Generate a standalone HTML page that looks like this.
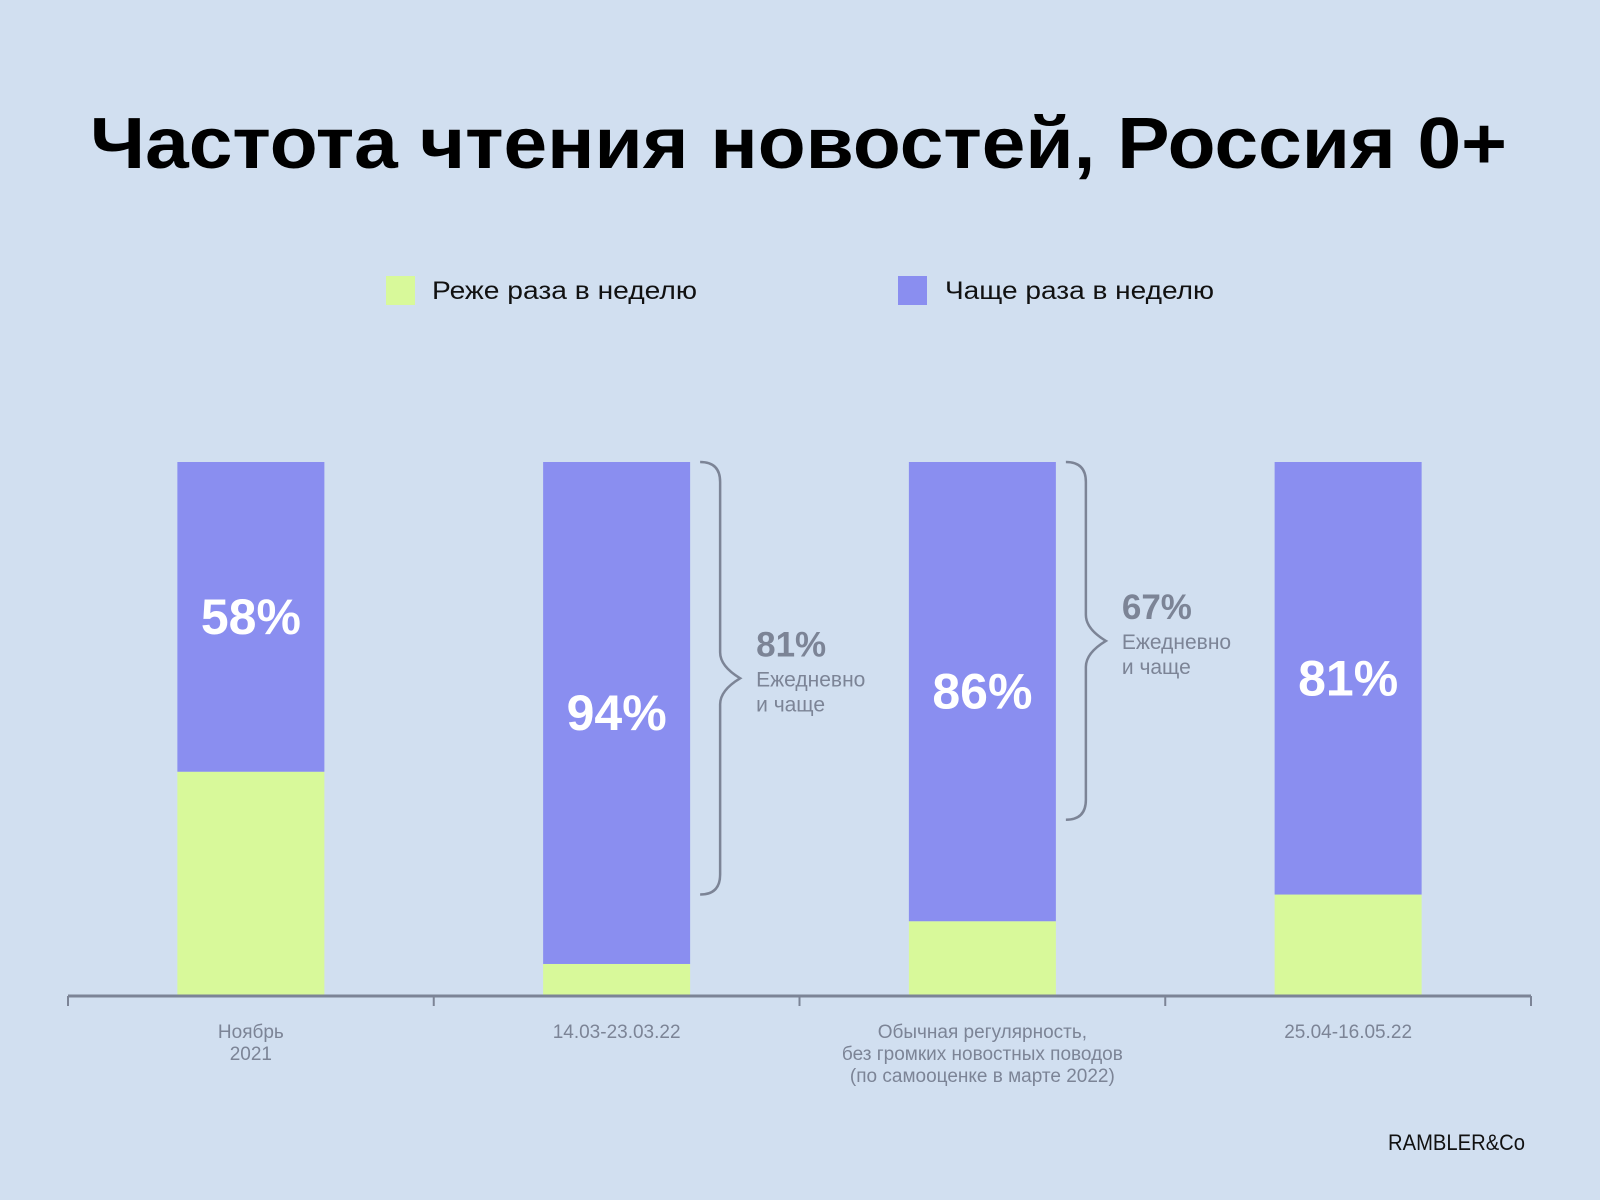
<!DOCTYPE html>
<html><head><meta charset="utf-8"><style>
html,body{margin:0;padding:0;background:#d1dff0;}
svg{display:block;font-family:"Liberation Sans","DejaVu Sans",sans-serif;}
</style></head><body>
<svg id="chart" width="1600" height="1200" viewBox="0 0 1600 1200" xmlns="http://www.w3.org/2000/svg">
<rect x="0" y="0" width="1600" height="1200" fill="#d1dff0"/>
<text x="90" y="168" font-size="72" font-weight="bold" fill="#000" textLength="1417" lengthAdjust="spacingAndGlyphs">Частота чтения новостей, Россия 0+</text>
<g>
<rect x="386" y="276" width="29" height="29" fill="#d8f99a"/>
<text x="432" y="299" font-size="25" fill="#111" textLength="265" lengthAdjust="spacingAndGlyphs">Реже раза в неделю</text>
<rect x="898" y="276" width="29" height="29" fill="#8a8ef0"/>
<text x="945" y="299" font-size="25" fill="#111" textLength="269" lengthAdjust="spacingAndGlyphs">Чаще раза в неделю</text>
</g>
<g id="plot"></g>
<text x="1388" y="1150" font-size="22" fill="#111" textLength="137" lengthAdjust="spacingAndGlyphs">RAMBLER&amp;Co</text>
</svg>
<script>
const categories = [["Ноябрь","2021"],["14.03-23.03.22"],["Обычная регулярность,","без громких новостных поводов","(по самооценке в марте 2022)"],["25.04-16.05.22"]];
const oftenValues = [58, 94, 86, 81];
const rarelyValues = [42, 6, 14, 19];
const dailyBarIndex = [1, 2];
const dailyValues = [81, 67];

const NS = "http://www.w3.org/2000/svg";
const plot = document.getElementById("plot");
const axisLeft = 68, axisRight = 1531, baseY = 996, topY = 462;
const slotW = (axisRight - axisLeft) / categories.length;
const barW = 147;
function y(v){ return baseY - (baseY - topY) * v / 100; }
function xc(i){ return axisLeft + slotW * (i + 0.5); }
function mk(tag, attrs){ const e = document.createElementNS(NS, tag); for (const k in attrs) e.setAttribute(k, attrs[k]); plot.appendChild(e); return e; }

categories.forEach((c, i) => {
  const x0 = xc(i) - barW / 2;
  const r = mk("rect", {x: x0, y: y(rarelyValues[i]), width: barW, height: baseY - y(rarelyValues[i]), fill: "#d8f99a"});
  
  
  const tot = rarelyValues[i] + oftenValues[i];
  const o = mk("rect", {x: x0, y: y(tot), width: barW, height: y(rarelyValues[i]) - y(tot), fill: "#8a8ef0"});
  
  
  const mid = (y(tot) + y(rarelyValues[i])) / 2;
  const t = mk("text", {x: xc(i), y: mid + 17, "text-anchor": "middle", "font-size": 50, "font-weight": "bold", fill: "#fff"});
  t.textContent = oftenValues[i] + "%";
  
  
  c.forEach((line, j) => {
    const l = mk("text", {x: xc(i), y: 1038 + j * 22, "text-anchor": "middle", "font-size": 19, fill: "#7c8496"});
    l.textContent = line;
    
    
  });
});
const ax = mk("line", {x1: axisLeft, x2: axisRight, y1: baseY, y2: baseY, stroke: "#7c8496", "stroke-width": 3});


for (let i = 0; i <= categories.length; i++) {
  const tk = mk("line", {x1: axisLeft + slotW * i, x2: axisLeft + slotW * i, y1: baseY, y2: baseY + 10, stroke: "#7c8496", "stroke-width": 2});
  
  
}
dailyBarIndex.forEach((bi, k) => {
  const x0 = xc(bi) + barW / 2 + 10;
  const y1 = y(100), y2 = y(100 - dailyValues[k]);
  const ym = (y1 + y2) / 2;
  const xs = x0 + 20, xp = x0 + 40;
  const d = `M${x0},${y1} Q${xs},${y1} ${xs},${y1+20} L${xs},${ym-26} Q${xs},${ym-12} ${xp},${ym} Q${xs},${ym+12} ${xs},${ym+26} L${xs},${y2-20} Q${xs},${y2} ${x0},${y2}`;
  const b = mk("path", {d: d, fill: "none", stroke: "#7c8496", "stroke-width": 2.5});
  
  
  const tx = xp + 16;
  const v = mk("text", {x: tx, y: ym - 22, "font-size": 35, "font-weight": "bold", fill: "#7c8496"});
  v.textContent = dailyValues[k] + "%";
  
  
  const a = mk("text", {x: tx, y: ym + 8, "font-size": 21, fill: "#7c8496"});
  a.textContent = "Ежедневно";
  
  
  const b2 = mk("text", {x: tx, y: ym + 33, "font-size": 21, fill: "#7c8496"});
  b2.textContent = "и чаще";
  
  
});
</script>
</body></html>
